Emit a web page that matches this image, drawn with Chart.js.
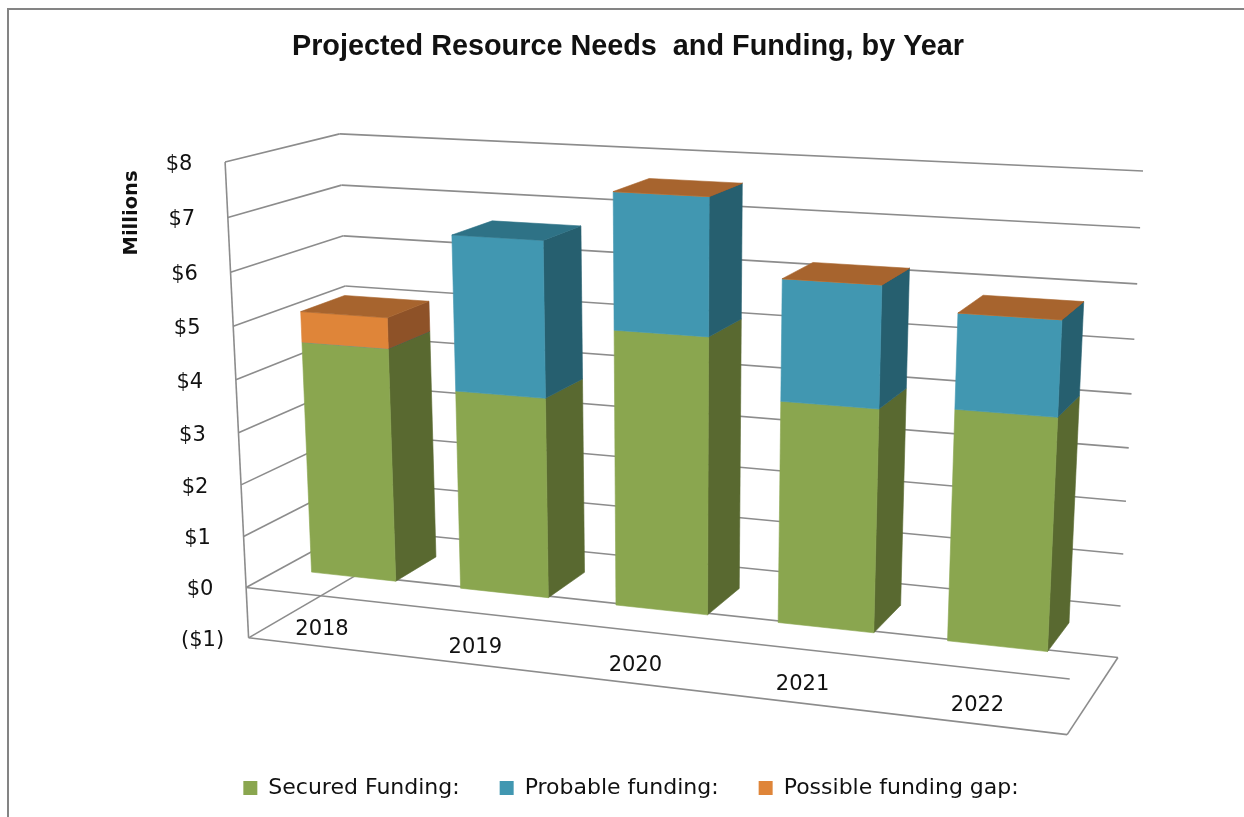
<!DOCTYPE html>
<html>
<head>
<meta charset="utf-8">
<title>Projected Resource Needs and Funding</title>
<script src="https://cdn.jsdelivr.net/npm/chart.js@4"></script>
<style>
  html, body { margin: 0; background: #fff; overflow: hidden; }
  canvas { display: block; }
</style>
</head>
<body>
<canvas id="fundingChart" width="1244" height="817"></canvas>
<script>
const years = ["2018", "2019", "2020", "2021", "2022"];
const securedFunding = [4.5, 3.8, 5.15, 4.09, 4.19];
const probableFunding = [0, 2.89, 2.48, 2.18, 1.68];
const possibleGap = [0.58, null, 0, 0, 0];

const valueMin = -1;
const valueMax = 8;

// Where the corners of the box sit on the page: [across, up, deep, pageX, pageY]
const boxAnchors = [
  [0, 1, 0, 224.5, 162], [0, 8 / 9, 0, 227.5, 217.5], [0, 2 / 9, 0, 244.3, 536],
  [0, 1 / 9, 0, 246, 587], [0, 0, 0, 249, 638],
  [0, 1, 1, 340, 134], [0, 8 / 9, 1, 342, 185], [0, 0, 1, 355, 576],
  [1, 1, 1, 1143, 171], [1, 8 / 9, 1, 1140, 228], [1, 1 / 9, 1, 1120.7, 605.7],
  [1, 0, 1, 1118, 657], [1, 0, 0, 1066.7, 735], [1, 1 / 9, 0, 1070, 679.3],
];
const barDepthFront = 0.3;
const barDepthBack = 0.7;
const yearLabelLevel = -0.66;
const gridColor = "#8c8c8c";
const labelFont = "21px 'DejaVu Sans'";

// Least squares fit of a 3x4 projection matrix (last entry fixed to 1)
function fitProjection(anchors) {
  const n = 11;
  const ata = Array.from({ length: n }, () => new Array(n + 1).fill(0));
  const addRow = (row, rhs) => {
    for (let i = 0; i < n; i++) {
      for (let j = 0; j < n; j++) ata[i][j] += row[i] * row[j];
      ata[i][n] += row[i] * rhs;
    }
  };
  for (const [u, t, w, x, y] of anchors) {
    addRow([u, t, w, 1, 0, 0, 0, 0, -x * u, -x * t, -x * w], x);
    addRow([0, 0, 0, 0, u, t, w, 1, -y * u, -y * t, -y * w], y);
  }
  for (let c = 0; c < n; c++) {
    let pivot = c;
    for (let r = c + 1; r < n; r++) {
      if (Math.abs(ata[r][c]) > Math.abs(ata[pivot][c])) pivot = r;
    }
    [ata[c], ata[pivot]] = [ata[pivot], ata[c]];
    for (let r = 0; r < n; r++) {
      if (r === c) continue;
      const f = ata[r][c] / ata[c][c];
      for (let k = c; k <= n; k++) ata[r][k] -= f * ata[c][k];
    }
  }
  return ata.map((row, i) => row[n] / row[i]);
}

const m = fitProjection(boxAnchors);

function project(u, t, w) {
  const d = m[8] * u + m[9] * t + m[10] * w + 1;
  return {
    x: (m[0] * u + m[1] * t + m[2] * w + m[3]) / d,
    y: (m[4] * u + m[5] * t + m[6] * w + m[7]) / d,
  };
}

function line(ctx, a, b) {
  ctx.beginPath();
  ctx.moveTo(a.x, a.y);
  ctx.lineTo(b.x, b.y);
  ctx.stroke();
}

function face(ctx, points, color) {
  ctx.fillStyle = color;
  ctx.strokeStyle = color;
  ctx.lineWidth = 0.6;
  ctx.beginPath();
  points.forEach((p, i) => (i ? ctx.lineTo(p.x, p.y) : ctx.moveTo(p.x, p.y)));
  ctx.closePath();
  ctx.fill();
  ctx.stroke();
}

// Outer frame, walls, floor and axis labels
const boxPlugin = {
  id: "box",
  afterLayout(chart) {
    chart.legend.left += 3;
    chart.legend.right += 3;
  },
  beforeDraw(chart) {
    const ctx = chart.ctx;
    ctx.save();
    ctx.fillStyle = "#fff";
    ctx.fillRect(0, 0, chart.width, chart.height);
    ctx.strokeStyle = "#848484";
    ctx.lineWidth = 2;
    ctx.beginPath();
    ctx.moveTo(8, chart.height);
    ctx.lineTo(8, 9);
    ctx.lineTo(chart.width, 9);
    ctx.stroke();
    ctx.restore();
  },
  beforeDatasetsDraw(chart) {
    const ctx = chart.ctx;
    const yScale = chart.scales.y;
    const xScale = chart.scales.x;
    const area = chart.chartArea;
    const up = (value) => (area.bottom - yScale.getPixelForValue(value)) / area.height;

    ctx.save();
    ctx.strokeStyle = gridColor;
    ctx.lineWidth = 1.6;
    yScale.ticks.forEach((tick) => {
      const t = up(tick.value);
      line(ctx, project(0, t, 0), project(0, t, 1));
      line(ctx, project(0, t, 1), project(1, t, 1));
    });
    line(ctx, project(0, 1, 0), project(0, 0, 0));
    line(ctx, project(0, 0, 0), project(1, 0, 0));
    line(ctx, project(1, 0, 0), project(1, 0, 1));
    line(ctx, project(0, up(0), 0), project(1, up(0), 0));

    ctx.fillStyle = "#111";
    ctx.font = labelFont;
    ctx.textAlign = "center";
    ctx.textBaseline = "middle";
    yScale.ticks.forEach((tick) => {
      const p = project(0, up(tick.value), 0);
      ctx.fillText(tick.label, p.x - 46, p.y + 2.5);
    });
    years.forEach((year, i) => {
      const u = (xScale.getPixelForValue(i) - area.left) / area.width;
      const p = project(u, up(yearLabelLevel), 0);
      ctx.fillText(year, p.x, p.y);
    });

    ctx.font = "bold 19.5px 'DejaVu Sans'";
    ctx.translate(132, 213);
    ctx.rotate(-Math.PI / 2);
    ctx.fillText("Millions", 0, 0);
    ctx.restore();
  },
  // Bars are extruded from the elements the bar controller has laid out
  beforeDatasetDraw() {
    return false;
  },
  afterDatasetsDraw(chart) {
    const ctx = chart.ctx;
    const area = chart.chartArea;
    const across = (px) => (px - area.left) / area.width;
    const up = (py) => (area.bottom - py) / area.height;
    ctx.save();
    years.forEach((_, i) => {
      const stack = chart.data.datasets
        .map((ds, d) => ({ ds, bar: chart.getDatasetMeta(d).data[i], value: ds.data[i] }))
        .filter((s) => s.value !== null);
      stack.forEach((s, k) => {
        const u0 = across(s.bar.x - s.bar.width / 2);
        const u1 = across(s.bar.x + s.bar.width / 2);
        const lo = up(s.bar.base);
        const hi = up(s.bar.y);
        const f = barDepthFront;
        const b = barDepthBack;
        face(ctx, [project(u1, lo, f), project(u1, lo, b), project(u1, hi, b), project(u1, hi, f)], s.ds.sideColor);
        face(ctx, [project(u0, lo, f), project(u1, lo, f), project(u1, hi, f), project(u0, hi, f)], s.ds.backgroundColor);
        if (k === stack.length - 1) {
          face(ctx, [project(u0, hi, f), project(u1, hi, f), project(u1, hi, b), project(u0, hi, b)], s.ds.topColor);
        }
      });
    });
    ctx.restore();
  },
};

new Chart(document.getElementById("fundingChart"), {
  type: "bar",
  data: {
    labels: years,
    datasets: [
      { label: "Secured Funding:", data: securedFunding, backgroundColor: "#8aa64f", sideColor: "#596930", topColor: "#6f8640" },
      { label: "Probable funding:", data: probableFunding, backgroundColor: "#4197b1", sideColor: "#265f6f", topColor: "#2e7286" },
      { label: "Possible funding gap:", data: possibleGap, backgroundColor: "#df8539", sideColor: "#8e5228", topColor: "#a7642e" },
    ],
  },
  options: {
    responsive: false,
    animation: false,
    layout: { padding: { left: 12, bottom: 8 } },
    datasets: { bar: { categoryPercentage: 1, barPercentage: 0.57 } },
    scales: {
      x: { stacked: true, display: false },
      y: {
        stacked: true,
        display: false,
        min: valueMin,
        max: valueMax,
        ticks: {
          stepSize: 1,
          callback: (v) => (v < 0 ? "($" + -v + ")" : "$" + v),
        },
      },
    },
    plugins: {
      tooltip: { enabled: false },
      title: {
        display: true,
        text: "Projected Resource Needs  and Funding, by Year",
        color: "#111",
        font: { family: "'Liberation Sans'", size: 28.8, weight: "bold" },
        padding: { top: 30, bottom: 10 },
      },
      legend: {
        position: "bottom",
        labels: {
          color: "#111",
          font: { family: "'DejaVu Sans'", size: 22 },
          boxWidth: 14,
          boxHeight: 14,
          padding: 40,
        },
      },
    },
  },
  plugins: [boxPlugin],
});
</script>
</body>
</html>
